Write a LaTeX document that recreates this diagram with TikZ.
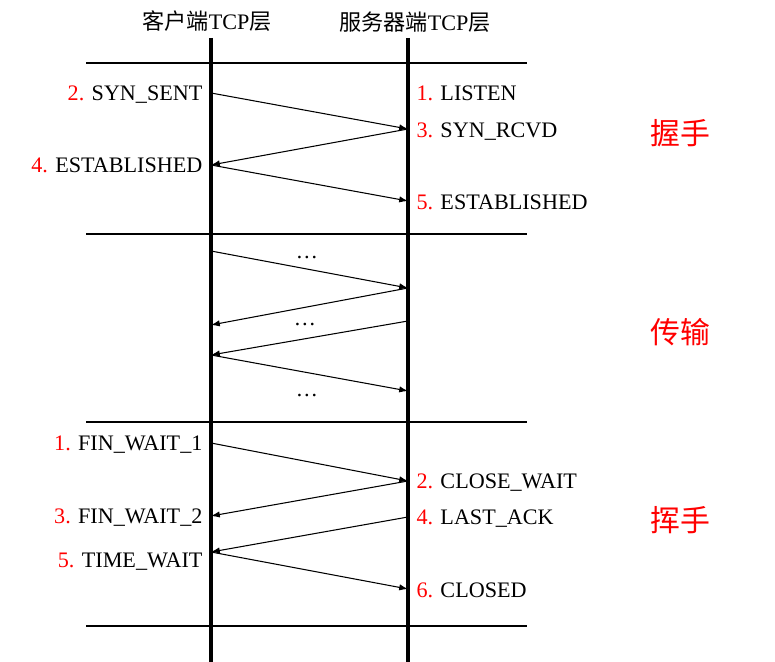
\documentclass[tikz,border=0pt]{standalone}
\usepackage{fontspec}
\setmainfont{Liberation Serif}
\newfontfamily\cjk{Noto Sans CJK SC}
\usepackage{xcolor}
\usetikzlibrary{arrows.meta, positioning}

\newcommand{\stnum}[1]{\textcolor{red}{#1}}

\begin{document}
\begin{tikzpicture}[x=0.02cm, y=-0.02cm, font=\fontsize{12.6}{15}\selectfont,
  life/.style={line width=2.4pt},
  sep/.style={line width=0.8pt},
  msg/.style={-{Latex[length=5pt,width=3.6pt]}, line width=0.6pt},
  lst/.style={inner sep=3.5pt, text height=1.6ex, text depth=0.35ex, yshift=-1.3pt},
  lstl/.style={lst, anchor=east, xshift=-1.2pt},
  lstr/.style={lst, anchor=west},
  phase/.style={text=red, font=\fontsize{17}{20}\selectfont\cjk}]
\useasboundingbox (0,0) rectangle (775,662);

% titles and the two ends
\node (cli) at (207,21) {{\cjk 客户端}TCP{\cjk 层}};
\node (srv) at (415,22) {{\cjk 服务器端}TCP{\cjk 层}};
\coordinate (ctop) at (211,38);
\coordinate (cbot) at (211,662);
\coordinate (stop) at (408,38);
\coordinate (sbot) at (408,662);
\draw[life] (ctop) -- (cbot);
\draw[life] (stop) -- (sbot);

% separators
\foreach \y in {63,234,422,626}
  \draw[sep] (86,\y) -- (527,\y);

% handshake
\coordinate (c1) at (211,93);
\coordinate (s1) at (408,129);
\coordinate (c2) at (211,165);
\coordinate (s2) at (408,201);
\node[lstl] (synsent) at (c1) {\stnum{2.} SYN\_SENT};
\node[lstr] (listen) at (410,93) {\stnum{1.} LISTEN};
\node[lstr] (synrcvd) at (410,130) {\stnum{3.} SYN\_RCVD};
\node[lstl] (estc) at (c2) {\stnum{4.} ESTABLISHED};
\node[lstr] (ests) at (410,202) {\stnum{5.} ESTABLISHED};
\draw[msg] (c1) -- (s1);
\draw[msg] (s1) -- (c2);
\draw[msg] (c2) -- (s2);
\node[phase] (hs) at (680,133) {握手};

% data transfer
\coordinate (c3) at (211,251);
\coordinate (s3) at (408,288);
\coordinate (c4) at (211,325);
\coordinate (s4) at (408,321);
\coordinate (c5) at (211,355);
\coordinate (s5) at (408,391);
\draw[msg] (c3) -- (s3);
\draw[msg] (s3) -- (c4);
\draw[msg] (s4) -- (c5);
\draw[msg] (c5) -- (s5);
\node (d1) at (307,258) {\ldots};
\node (d2) at (305,325) {\ldots};
\node (d3) at (307,396) {\ldots};
\node[phase] (tr) at (680,332) {传输};

% teardown
\coordinate (c6) at (211,443);
\coordinate (s6) at (408,481);
\coordinate (c7) at (211,516);
\coordinate (s7) at (408,517);
\coordinate (c8) at (211,552);
\coordinate (s8) at (408,589);
\node[lstl] (fw1) at (c6) {\stnum{1.} FIN\_WAIT\_1};
\node[lstr] (clw) at (410,481) {\stnum{2.} CLOSE\_WAIT};
\node[lstl] (fw2) at (c7) {\stnum{3.} FIN\_WAIT\_2};
\node[lstr] (lack) at (410,517) {\stnum{4.} LAST\_ACK};
\node[lstl] (tw) at (211,560) {\stnum{5.} TIME\_WAIT};
\node[lstr] (cld) at (410,590) {\stnum{6.} CLOSED};
\draw[msg] (c6) -- (s6);
\draw[msg] (s6) -- (c7);
\draw[msg] (s7) -- (c8);
\draw[msg] (c8) -- (s8);
\node[phase] (wv) at (680,520) {挥手};
\end{tikzpicture}
\end{document}
